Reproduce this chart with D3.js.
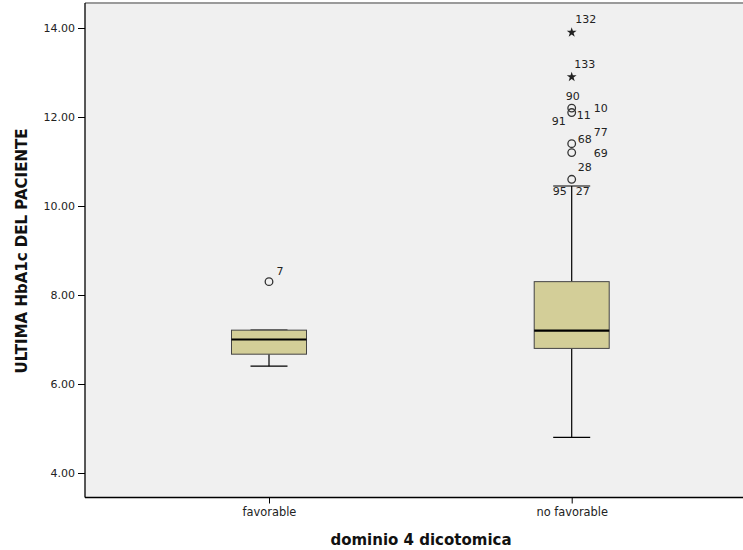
<!DOCTYPE html>
<html>
<head>
<meta charset="utf-8">
<script src="https://cdn.jsdelivr.net/npm/d3@7"></script>
<style>
  html, body { margin: 0; padding: 0; background: #ffffff; }
  svg { display: block; font-family: "DejaVu Sans", Verdana, sans-serif; }
</style>
</head>
<body>
<svg id="chart" width="743" height="550"></svg>
<script>
// Group names on the x axis
const categories = ["favorable", "no favorable"];

// Five-number summaries per group (whisker low, Q1, median, Q3, whisker high)
const whiskerLow = [6.40, 4.80];
const q1Values = [6.67, 6.80];
const medianValues = [7.00, 7.20];
const q3Values = [7.21, 8.30];
const whiskerHigh = [7.21, 10.45];

// Outlying cases: group, case number, value, kind (o = outlier, * = extreme)
const outliers = [
  { group: "favorable", id: "7", value: 8.30, kind: "o" },
  { group: "no favorable", id: "132", value: 13.90, kind: "*" },
  { group: "no favorable", id: "133", value: 12.90, kind: "*" },
  { group: "no favorable", id: "90", value: 12.20, kind: "o" },
  { group: "no favorable", id: "10", value: 12.20, kind: "o" },
  { group: "no favorable", id: "91", value: 12.10, kind: "o" },
  { group: "no favorable", id: "11", value: 12.10, kind: "o" },
  { group: "no favorable", id: "68", value: 11.40, kind: "o" },
  { group: "no favorable", id: "77", value: 11.40, kind: "o" },
  { group: "no favorable", id: "69", value: 11.20, kind: "o" },
  { group: "no favorable", id: "28", value: 10.60, kind: "o" },
  { group: "no favorable", id: "95", value: 10.60, kind: "o" },
  { group: "no favorable", id: "27", value: 10.60, kind: "o" }
];

// Y axis tick values
const yTicks = [4, 6, 8, 10, 12, 14];

const yTitle = "ULTIMA HbA1c DEL PACIENTE";
const xTitle = "dominio 4 dicotomica";

// ---- layout ----
const svg = d3.select("#chart");
const frame = { left: 85, top: 3, bottom: 497.5, right: 743 };
const FONT = "'DejaVu Sans', Verdana, sans-serif";

const y = d3.scaleLinear().domain([4, 14]).range([473, 28]);
const x = d3.scalePoint().domain(categories).range([269, 571.7]);

// plotting area background
svg.append("rect")
  .attr("x", frame.left).attr("y", frame.top)
  .attr("width", frame.right - frame.left)
  .attr("height", frame.bottom - frame.top)
  .attr("fill", "#f0f0f0");

// top border (grey)
svg.append("line")
  .attr("x1", frame.left).attr("x2", frame.right)
  .attr("y1", frame.top).attr("y2", frame.top)
  .attr("stroke", "#9a9a9a").attr("stroke-width", 2);

// y axis
const yAxis = d3.axisLeft(y).tickValues(yTicks).tickFormat(d3.format(".2f"))
  .tickSizeInner(7).tickSizeOuter(0).tickPadding(3);
const gy = svg.append("g").attr("transform", `translate(${frame.left},0)`).call(yAxis);
gy.select(".domain").remove();
gy.selectAll(".tick line").attr("stroke", "#000");
gy.selectAll(".tick text").attr("fill", "#222").style("font-size", "11px")
  .style("font-family", FONT);
svg.append("line")
  .attr("x1", frame.left).attr("x2", frame.left)
  .attr("y1", frame.top).attr("y2", frame.bottom)
  .attr("stroke", "#000").attr("stroke-width", 1.3);

// x axis
const xAxis = d3.axisBottom(x).tickSizeInner(6).tickSizeOuter(0).tickPadding(4);
const gx = svg.append("g").attr("transform", `translate(0,${frame.bottom})`).call(xAxis);
gx.select(".domain").remove();
gx.selectAll(".tick line").attr("stroke", "#000");
gx.selectAll(".tick text").attr("fill", "#222").style("font-size", "11.4px")
  .style("font-family", FONT);
svg.append("line")
  .attr("x1", frame.left).attr("x2", frame.right)
  .attr("y1", frame.bottom).attr("y2", frame.bottom)
  .attr("stroke", "#000").attr("stroke-width", 1.5);

// ---- boxes ----
const boxW = 75, capW = 37;
const plot = svg.append("g");

categories.forEach((c, i) => {
  const cx = x(c);
  const g = plot.append("g");
  // whiskers
  g.append("line").attr("x1", cx).attr("x2", cx)
    .attr("y1", y(whiskerLow[i])).attr("y2", y(q1Values[i]))
    .attr("stroke", "#000").attr("stroke-width", 1.2);
  g.append("line").attr("x1", cx).attr("x2", cx)
    .attr("y1", y(whiskerHigh[i])).attr("y2", y(q3Values[i]))
    .attr("stroke", "#000").attr("stroke-width", 1.2);
  g.append("line").attr("x1", cx - capW / 2).attr("x2", cx + capW / 2)
    .attr("y1", y(whiskerLow[i])).attr("y2", y(whiskerLow[i]))
    .attr("stroke", "#000").attr("stroke-width", 1.2);
  g.append("line").attr("x1", cx - capW / 2).attr("x2", cx + capW / 2)
    .attr("y1", y(whiskerHigh[i])).attr("y2", y(whiskerHigh[i]))
    .attr("stroke", "#000").attr("stroke-width", 1.2);
  // box
  g.append("rect")
    .attr("x", cx - boxW / 2).attr("y", y(q3Values[i]))
    .attr("width", boxW).attr("height", y(q1Values[i]) - y(q3Values[i]))
    .attr("fill", "#d3ce98").attr("stroke", "#444").attr("stroke-width", 1);
  // median
  g.append("line").attr("x1", cx - boxW / 2).attr("x2", cx + boxW / 2)
    .attr("y1", y(medianValues[i])).attr("y2", y(medianValues[i]))
    .attr("stroke", "#000").attr("stroke-width", 2.2);
});

// ---- outliers ----
// label offsets around each marker, keyed by case number
const labelOffset = {
  "7": [11, -10], "132": [14, -13], "133": [13, -12],
  "90": [1, -12], "10": [29, 0], "91": [-13, 9], "11": [12, 3],
  "68": [13, -4.5], "77": [29, -11], "69": [29, 1],
  "28": [13, -12], "95": [-12, 12], "27": [11, 12]
};
const markers = svg.append("g");
const drawn = new Set();
outliers.forEach(o => {
  const cx = x(o.group), cy = y(o.value);
  const key = o.group + o.value + o.kind;
  if (!drawn.has(key)) {
    drawn.add(key);
    if (o.kind === "o") {
      markers.append("circle").attr("cx", cx).attr("cy", cy).attr("r", 3.8)
        .attr("fill", "none").attr("stroke", "#333").attr("stroke-width", 1.3);
    } else {
      markers.append("path")
        .attr("d", d3.symbol(d3.symbolStar, 30)())
        .attr("transform", `translate(${cx},${cy})`)
        .attr("fill", "#222");
    }
  }
  const off = labelOffset[o.id];
  markers.append("text")
    .attr("x", cx + off[0]).attr("y", cy + off[1])
    .attr("text-anchor", "middle").attr("dominant-baseline", "central")
    .attr("fill", "#222").style("font-size", "11px")
    .text(o.id);
});

// ---- titles ----
svg.append("text")
  .attr("transform", `translate(22,251) rotate(-90)`)
  .attr("text-anchor", "middle").attr("dominant-baseline", "central")
  .style("font-size", "15px").style("font-weight", "bold").attr("fill", "#111")
  .text(yTitle);
svg.append("text")
  .attr("x", 421).attr("y", 540)
  .attr("text-anchor", "middle").attr("dominant-baseline", "central")
  .style("font-size", "15px").style("font-weight", "bold").attr("fill", "#111")
  .text(xTitle);
</script>
</body>
</html>
